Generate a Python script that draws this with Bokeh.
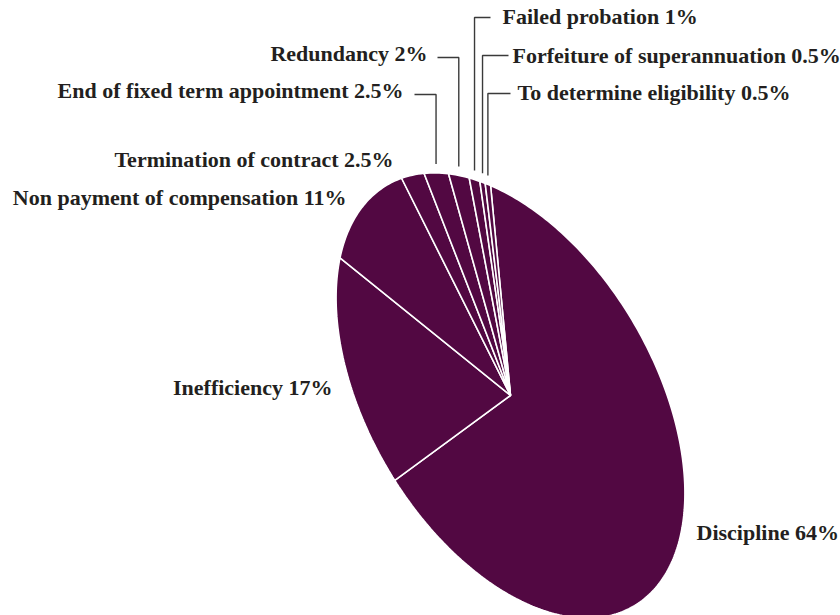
import numpy as np
from bokeh.plotting import figure
from bokeh.models import Range1d, ColumnDataSource
from bokeh.core.properties import value
from bokeh.embed import file_html
from bokeh.resources import INLINE

# ---------------- data ----------------
categories = [
    "Discipline",
    "Inefficiency",
    "Non payment of compensation",
    "Termination of contract",
    "End of fixed term appointment",
    "Redundancy",
    "Failed probation",
    "Forfeiture of superannuation",
    "To determine eligibility",
]
shares = [64, 17, 11, 2.5, 2.5, 2, 1, 0.5, 0.5]

# ---------------- layout (screen px of the reference) ----------------
label_x = [696, 332, 346, 393, 403, 427, 502, 512, 517]
label_base = [532, 387, 197, 159, 90, 53, 16, 55, 92]
label_align = ["left", "right", "right", "right", "right", "right", "left", "left", "left"]
leader = [None, None, None, None, (94, 414), (57, 437), (17, 490), (55, 508), (93, 510)]

W, H = 840, 615
PAGE_H = 615
def sy(y):  # reference screen y -> data y
    return PAGE_H - y

FILL = "#520842"
TEXT = "#231f20"

# tilted pie: affine image of a circle
cx, cy = 510.0, sy(395.0)
a_ax, b_ax = 244.0, 143.0
ang = np.arctan2(0.863, 0.505)
u = np.array([np.cos(ang), -np.sin(ang)])
v = np.array([np.sin(ang), np.cos(ang)])
t0 = np.deg2rad(141.6)

def pt(t):
    t = np.asarray(t)
    x = cx + a_ax * np.cos(t) * u[0] + b_ax * np.sin(t) * v[0]
    y = cy + a_ax * np.cos(t) * u[1] + b_ax * np.sin(t) * v[1]
    return x, y

total = float(sum(shares))
cum = np.concatenate([[0.0], np.cumsum(shares)]) / total
xs, ys, mids = [], [], []
for i in range(len(shares)):
    ts = t0 - 2 * np.pi * cum[i]
    te = t0 - 2 * np.pi * cum[i + 1]
    n = max(4, int(abs(te - ts) / (2 * np.pi) * 400))
    tt = np.linspace(ts, te, n)
    ex, ey = pt(tt)
    xs.append([cx] + list(ex))
    ys.append([cy] + list(ey))
    mids.append(0.5 * (ts + te))

p = figure(width=W, height=H, output_backend="svg", toolbar_location=None,
           x_range=Range1d(0, W), y_range=Range1d(PAGE_H - H, PAGE_H),
           min_border=0, outline_line_color=None, background_fill_color="white",
           border_fill_color="white")
p.axis.visible = False
p.grid.visible = False

p.patches(xs, ys, fill_color=FILL, line_color="white", line_width=1.6)

lx, ly = [], []
for i, ld in enumerate(leader):
    if ld is None:
        continue
    ey_, ex_ = ld
    mx, my = pt(mids[i])
    mx = float(mx); my = float(my)
    lx.append([mx, mx, ex_])
    ly.append([my + 9, sy(ey_), sy(ey_)])
p.multi_line(lx, ly, line_color="#3a3a3a", line_width=1.4)

labels = [f"{c} {s:g}%" for c, s in zip(categories, shares)]
for al in ("left", "right"):
    idx = [i for i in range(len(labels)) if label_align[i] == al]
    src = ColumnDataSource(dict(
        x=[label_x[i] for i in idx],
        y=[sy(label_base[i]) for i in idx],
        t=[labels[i] for i in idx],
    ))
    p.text("x", "y", text="t", source=src, text_align=al, text_baseline="alphabetic",
           text_font=value("Liberation Serif"), text_font_style="bold",
           text_font_size="22px", text_color=TEXT)

open("out.html", "w").write(file_html(p, INLINE))
